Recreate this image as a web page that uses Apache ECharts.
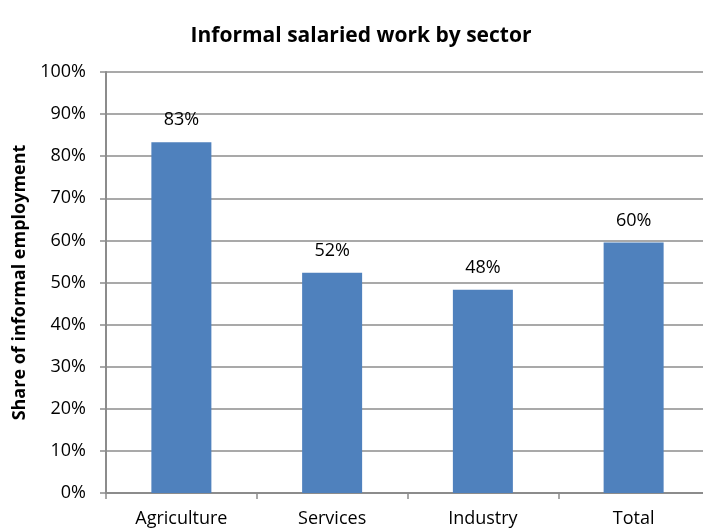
<!DOCTYPE html>
<html>
<head>
<meta charset="utf-8">
<script src="https://cdn.jsdelivr.net/npm/echarts@6/dist/echarts.min.js"></script>
<style>
  html, body { margin: 0; padding: 0; background: #ffffff; }
  #chart { width: 703px; height: 531px; }
</style>
</head>
<body>
<div id="chart"></div>
<script>
// Sectors and their share of informal employment (percent)
var sectors = ['Agriculture', 'Services', 'Industry', 'Total'];
var shares = [83.3, 52.3, 48.3, 59.5];
var yTicks = [0, 10, 20, 30, 40, 50, 60, 70, 80, 90, 100];

var FONT = '"Open Sans", sans-serif';
var chart = echarts.init(document.getElementById('chart'), null, { renderer: 'canvas' });

chart.setOption({
  animation: false,
  backgroundColor: '#ffffff',
  title: {
    text: 'Informal salaried work by sector',
    left: 356,
    top: 21,
    textAlign: 'center',
    textStyle: { fontFamily: FONT, fontSize: 21, fontWeight: 'bold', color: '#000000' }
  },
  // fixed plot rectangle; the last category runs past the right edge of the canvas
  grid: { left: 106, top: 72, width: 603, height: 421, containLabel: false, outerBoundsMode: 'none' },
  xAxis: {
    type: 'category',
    data: sectors,
    boundaryGap: true,
    axisLine: { show: true, lineStyle: { color: '#8c8c8c', width: 2 } },
    axisTick: { show: true, alignWithLabel: false, length: 6, lineStyle: { color: '#8c8c8c', width: 1.5 } },
    axisLabel: { margin: 17, fontFamily: FONT, fontSize: 18, color: '#000000' },
    splitLine: { show: false }
  },
  yAxis: {
    type: 'value',
    min: yTicks[0],
    max: yTicks[yTicks.length - 1],
    interval: 10,
    name: 'Share of informal employment',
    nameLocation: 'middle',
    nameGap: 76,
    nameRotate: 90,
    nameTextStyle: { fontFamily: FONT, fontSize: 18, fontWeight: 'bold', color: '#000000' },
    axisLine: { show: true, lineStyle: { color: '#8c8c8c', width: 2 } },
    axisTick: { show: true, inside: false, length: 6, lineStyle: { color: '#8c8c8c', width: 1.5 } },
    axisLabel: { margin: 20, fontFamily: FONT, fontSize: 18, color: '#000000', formatter: '{value}%' },
    splitLine: { show: true, lineStyle: { color: '#8c8c8c', width: 1.5 } }
  },
  series: [{
    type: 'bar',
    data: shares,
    barWidth: 60,
    itemStyle: { color: '#4f81bd' },
    label: {
      show: true,
      position: 'top',
      distance: 13,
      fontFamily: FONT,
      fontSize: 18,
      color: '#000000',
      formatter: function (p) { return Math.round(p.value) + '%'; }
    }
  }]
});
</script>
</body>
</html>
